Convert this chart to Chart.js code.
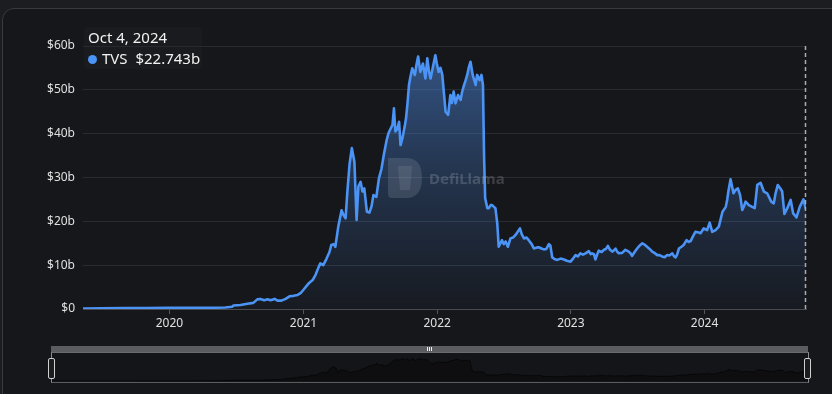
<!DOCTYPE html>
<html>
<head>
<meta charset="utf-8">
<script src="https://cdn.jsdelivr.net/npm/chart.js@4.4.1/dist/chart.umd.min.js"></script>
<style>
  html,body{margin:0;padding:0;}
  body{width:832px;height:394px;overflow:hidden;background:#1c1d21;position:relative;font-family:"Noto Sans","Open Sans",sans-serif;}
  .card{position:absolute;left:2px;top:8px;width:880px;height:440px;border:1px solid #393a3f;border-radius:12px;background:#16171b;}
  #main{position:absolute;left:0;top:0;}
  .tip{position:absolute;left:84px;top:27px;width:118px;height:42px;background:rgba(34,35,40,0.35);border-radius:4px;}
  .tip .t{position:absolute;left:4px;top:0px;color:#f2f2f2;font-size:15px;line-height:20px;white-space:nowrap;}
  .tip .r{position:absolute;left:4px;top:21px;color:#f2f2f2;font-size:15px;line-height:20px;white-space:nowrap;}
  .tip .dot{display:inline-block;width:9px;height:9px;border-radius:50%;background:#4b93f4;margin-right:5px;vertical-align:0px;}
  .sbar{position:absolute;left:51px;top:346px;width:757px;height:6px;background:#5b5c60;}
  .sbox{position:absolute;left:51px;top:352px;width:756px;height:29px;border-top:1px solid #6a6b6f;border-bottom:1px solid #5a5b5f;border-left:1px solid #8a8b8f;border-right:1px solid #8a8b8f;background:#141518;box-sizing:content-box;}
  #mini{position:absolute;left:52px;top:353px;}
  .handle{position:absolute;top:358px;width:5px;height:19px;border:1px solid #d0d0d0;background:#1b1c1f;border-radius:2px;}
  .grip{position:absolute;top:347px;width:1px;height:4px;background:#f0f0f0;}
</style>
</head>
<body>
<div class="card"></div>
<canvas id="main" width="832" height="340"></canvas>
<div class="tip"><div class="t" id="tipDate"></div><div class="r"><span class="dot"></span><span id="tipName"></span>&nbsp;&nbsp;<span id="tipVal"></span></div></div>
<div class="sbar"></div>
<div class="sbox"></div>
<canvas id="mini" width="756" height="28"></canvas>
<div class="handle" style="left:48px"></div>
<div class="handle" style="left:804px"></div>
<div class="grip" style="left:427px"></div>
<div class="grip" style="left:429px"></div>
<div class="grip" style="left:431px"></div>
<script>
const seriesName = 'TVS';
const hoverDate = 'Oct 4, 2024';
const hoverValue = '$22.743b';
const yearTicks = [2020, 2021, 2022, 2023, 2024];
const yTickValues = [0, 10, 20, 30, 40, 50, 60];
const dates = [
'2019-05-10','2019-07-01','2019-09-01','2019-11-01','2020-01-01','2020-03-01','2020-04-15','2020-06-01','2020-06-20','2020-06-24',
'2020-07-13','2020-08-01','2020-08-17','2020-08-28','2020-09-05','2020-09-16','2020-09-25','2020-10-03','2020-10-14','2020-10-22',
'2020-11-02','2020-11-13','2020-11-24','2020-12-05','2020-12-16','2020-12-24','2021-01-01','2021-01-09','2021-01-17','2021-01-26',
'2021-02-03','2021-02-11','2021-02-16','2021-02-24','2021-03-05','2021-03-13','2021-03-18','2021-03-24','2021-03-29','2021-04-06',
'2021-04-15','2021-04-20','2021-04-26','2021-05-01','2021-05-07','2021-05-13','2021-05-20','2021-05-26','2021-05-31','2021-06-06',
'2021-06-11','2021-06-16','2021-06-23','2021-06-30','2021-07-06','2021-07-11','2021-07-19','2021-07-26','2021-08-02','2021-08-09',
'2021-08-16','2021-08-21','2021-08-26','2021-09-01','2021-09-05','2021-09-09','2021-09-14','2021-09-19','2021-09-23','2021-09-28',
'2021-10-04','2021-10-08','2021-10-12','2021-10-16','2021-10-20','2021-10-25','2021-11-01','2021-11-05','2021-11-10','2021-11-16',
'2021-11-23','2021-11-30','2021-12-05','2021-12-10','2021-12-14','2021-12-21','2021-12-27','2021-12-31','2022-01-05','2022-01-10',
'2022-01-15','2022-01-19','2022-01-24','2022-01-31','2022-02-06','2022-02-10','2022-02-15','2022-02-20','2022-02-27','2022-03-06',
'2022-03-10','2022-03-14','2022-03-19','2022-03-24','2022-03-28','2022-04-02','2022-04-08','2022-04-16','2022-04-20','2022-04-27',
'2022-05-02','2022-05-06','2022-05-09','2022-05-12','2022-05-18','2022-05-22','2022-05-27','2022-05-31','2022-06-05','2022-06-09',
'2022-06-14','2022-06-18','2022-06-23','2022-06-27','2022-07-02','2022-07-07','2022-07-13','2022-07-20','2022-07-27','2022-08-03',
'2022-08-08','2022-08-15','2022-08-20','2022-08-26','2022-09-02','2022-09-08','2022-09-16','2022-09-22','2022-09-29','2022-10-05',
'2022-10-13','2022-10-19','2022-10-26','2022-11-02','2022-11-06','2022-11-11','2022-11-17','2022-11-25','2022-12-04','2022-12-13',
'2022-12-21','2022-12-31','2023-01-07','2023-01-14','2023-01-20','2023-01-27','2023-02-03','2023-02-10','2023-02-19','2023-02-24',
'2023-02-28','2023-03-05','2023-03-09','2023-03-14','2023-03-18','2023-03-26','2023-04-01','2023-04-07','2023-04-12','2023-04-18',
'2023-04-24','2023-04-29','2023-05-03','2023-05-08','2023-05-12','2023-05-21','2023-05-30','2023-06-08','2023-06-13','2023-06-17',
'2023-06-24','2023-07-01','2023-07-07','2023-07-15','2023-07-21','2023-07-28','2023-08-04','2023-08-11','2023-08-17','2023-08-25',
'2023-08-31','2023-09-07','2023-09-14','2023-09-21','2023-09-27','2023-10-05','2023-10-10','2023-10-14','2023-10-18','2023-10-23',
'2023-10-30','2023-11-05','2023-11-13','2023-11-18','2023-11-24','2023-11-30','2023-12-07','2023-12-14','2023-12-21','2023-12-30',
'2024-01-08','2024-01-15','2024-01-22','2024-01-31','2024-02-09','2024-02-14','2024-02-19','2024-02-28','2024-03-03','2024-03-06',
'2024-03-12','2024-03-16','2024-03-20','2024-03-26','2024-04-01','2024-04-07','2024-04-13','2024-04-18','2024-04-22','2024-05-01',
'2024-05-10','2024-05-17','2024-05-21','2024-05-24','2024-06-02','2024-06-11','2024-06-20','2024-07-01','2024-07-08','2024-07-13',
'2024-07-19','2024-07-26','2024-07-31','2024-08-06','2024-08-14','2024-08-23','2024-08-30','2024-09-08','2024-09-17','2024-09-27',
'2024-10-04'
];
const tvs = [
0.1,0.15,0.2,0.2,0.25,0.3,0.25,0.35,0.5,0.8,
0.9,1.2,1.4,2.2,2.3,2.0,2.2,2.0,2.3,1.9,
1.9,2.3,2.9,3.0,3.2,3.6,4.4,5.2,6.0,6.6,
7.8,9.5,10.4,10.0,11.5,13.0,14.6,14.8,14.2,18.8,
22.5,21.5,20.7,27.0,33.2,36.7,33.6,20.3,28.0,29.0,
26.8,27.5,22.2,22.0,23.5,26.0,25.6,29.8,32.0,35.5,
38.5,40.1,41.0,42.0,45.8,40.5,41.0,42.7,37.4,38.9,
41.5,43.5,46.9,51.1,53.0,54.9,53.4,55.5,57.6,54.1,
56.0,52.6,57.2,54.0,52.6,55.5,57.9,56.0,54.1,55.0,
53.4,49.6,45.0,44.3,48.8,47.0,49.6,46.9,48.8,47.7,
49.5,50.7,52.0,53.4,55.0,56.4,53.4,51.1,53.4,52.2,
53.4,51.1,35.0,25.3,23.0,23.0,23.7,23.7,23.3,23.0,
19.6,14.2,15.0,15.7,14.8,15.4,14.2,16.1,16.3,16.9,
17.5,18.4,17.0,16.1,16.3,15.7,14.8,13.8,14.0,14.1,
13.8,13.6,13.7,14.8,14.5,11.8,11.4,11.2,11.5,11.3,
11.0,10.8,11.5,12.3,12.0,12.7,12.4,12.7,13.2,12.5,
12.7,12.5,11.3,12.5,13.3,13.0,13.5,13.7,14.4,13.5,
13.1,13.4,13.8,13.0,12.7,12.8,13.5,13.1,12.7,12.1,
13.0,13.8,14.4,15.0,14.7,14.2,13.7,13.1,12.8,12.3,
12.3,12.0,11.8,12.3,12.2,12.7,12.0,11.8,12.4,13.8,
14.2,14.6,15.7,15.3,15.5,16.5,17.6,17.5,17.3,18.4,
18.0,19.7,17.6,18.0,18.8,20.5,22.2,23.3,25.0,26.8,
29.6,28.0,26.4,27.2,27.5,26.0,22.6,23.5,24.5,23.7,
23.3,23.0,26.0,28.3,28.8,26.8,26.4,24.5,24.1,26.4,
28.3,27.5,26.8,21.7,23.0,24.9,21.8,20.9,23.3,25.0,
22.743
];

document.getElementById('tipDate').textContent = hoverDate;
document.getElementById('tipName').textContent = seriesName;
document.getElementById('tipVal').textContent = hoverValue;

const points = dates.map((d, i) => ({ x: Date.parse(d), y: tvs[i] }));
const xMin = points[0].x, xMax = points[points.length - 1].x;

const watermark = {
  id: 'watermark',
  afterDatasetsDraw(chart) {
    const c = chart.ctx;
    c.save();
    c.fillStyle = 'rgba(200,205,215,0.16)';
    c.beginPath();
    c.moveTo(388, 158);
    c.lineTo(406, 158);
    c.quadraticCurveTo(422, 158, 422, 178);
    c.quadraticCurveTo(422, 198, 406, 198);
    c.lineTo(392, 198);
    c.quadraticCurveTo(388, 198, 388, 194);
    c.closePath();
    c.fill();
    c.fillStyle = 'rgba(200,205,215,0.12)';
    c.beginPath();
    c.moveTo(398, 166); c.lineTo(412, 166); c.lineTo(410, 190); c.lineTo(400, 190);
    c.closePath();
    c.fill();
    c.fillStyle = 'rgba(200,205,215,0.22)';
    c.font = 'bold 15px "Noto Sans", sans-serif';
    c.textBaseline = 'middle';
    c.fillText('DefiLlama', 429, 180);
    c.restore();
  }
};

const crosshair = {
  id: 'crosshair',
  afterDraw(chart) {
    const c = chart.ctx, a = chart.chartArea;
    const x = Math.round(chart.scales.x.getPixelForValue(xMax)) - 0.5;
    c.save();
    c.strokeStyle = '#a9abb0';
    c.lineWidth = 1.5;
    c.setLineDash([4, 3]);
    c.beginPath();
    c.moveTo(x, a.top);
    c.lineTo(x, a.bottom);
    c.stroke();
    c.restore();
  }
};

new Chart(document.getElementById('main'), {
  type: 'line',
  data: { datasets: [{
    label: seriesName,
    data: points,
    borderColor: '#4b93f4',
    borderWidth: 2.6,
    borderJoinStyle: 'round',
    pointRadius: 0,
    tension: 0,
    fill: 'origin',
    backgroundColor: (ctx) => {
      const a = ctx.chart.chartArea;
      if (!a) return 'rgba(79,143,234,0.2)';
      const g = ctx.chart.ctx.createLinearGradient(0, a.top, 0, a.bottom);
      g.addColorStop(0, 'rgba(79,143,234,0.52)');
      g.addColorStop(0.5, 'rgba(79,143,234,0.24)');
      g.addColorStop(1, 'rgba(79,143,234,0.03)');
      return g;
    }
  }]},
  options: {
    responsive: false,
    animation: false,
    devicePixelRatio: 1,
    layout: { padding: { top: 46, right: 26, left: 0, bottom: 0 } },
    plugins: { legend: { display: false }, tooltip: { enabled: false } },
    scales: {
      x: {
        type: 'linear', min: xMin, max: xMax,
        afterBuildTicks: (s) => { s.ticks = yearTicks.map(y => ({ value: Date.UTC(y, 0, 1) })); },
        ticks: { color: '#e0e0e0', font: { family: 'Noto Sans', size: 12 }, padding: 2, maxRotation: 0, autoSkip: false,
                 callback: (v) => String(new Date(v).getUTCFullYear()) },
        grid: { drawOnChartArea: false, drawTicks: true, tickLength: 5, color: '#55565b' },
        border: { display: true, color: '#4a4b50', width: 1 },
        afterFit: (s) => { s.height = 31; }
      },
      y: {
        min: 0, max: 60,
        afterBuildTicks: (s) => { s.ticks = yTickValues.map(v => ({ value: v })); },
        ticks: { color: '#e0e0e0', font: { family: 'Noto Sans', size: 12 }, padding: 8,
                 callback: (v) => v === 0 ? '$0' : '$' + v + 'b' },
        grid: { color: '#2a2b30', drawTicks: false },
        border: { display: false },
        afterFit: (s) => { s.width = 83; }
      }
    }
  },
  plugins: [watermark, crosshair]
});

new Chart(document.getElementById('mini'), {
  type: 'line',
  data: { datasets: [{
    data: points,
    borderColor: 'rgba(5,5,6,0.8)',
    borderWidth: 1,
    pointRadius: 0,
    tension: 0,
    fill: 'origin',
    backgroundColor: 'rgba(6,6,8,0.45)'
  }]},
  options: {
    responsive: false, animation: false, devicePixelRatio: 1,
    layout: { padding: 0 },
    plugins: { legend: { display: false }, tooltip: { enabled: false } },
    scales: {
      x: { type: 'linear', min: xMin, max: xMax, display: false },
      y: { min: 0, max: 72, display: false }
    }
  }
});
</script>
</body>
</html>
